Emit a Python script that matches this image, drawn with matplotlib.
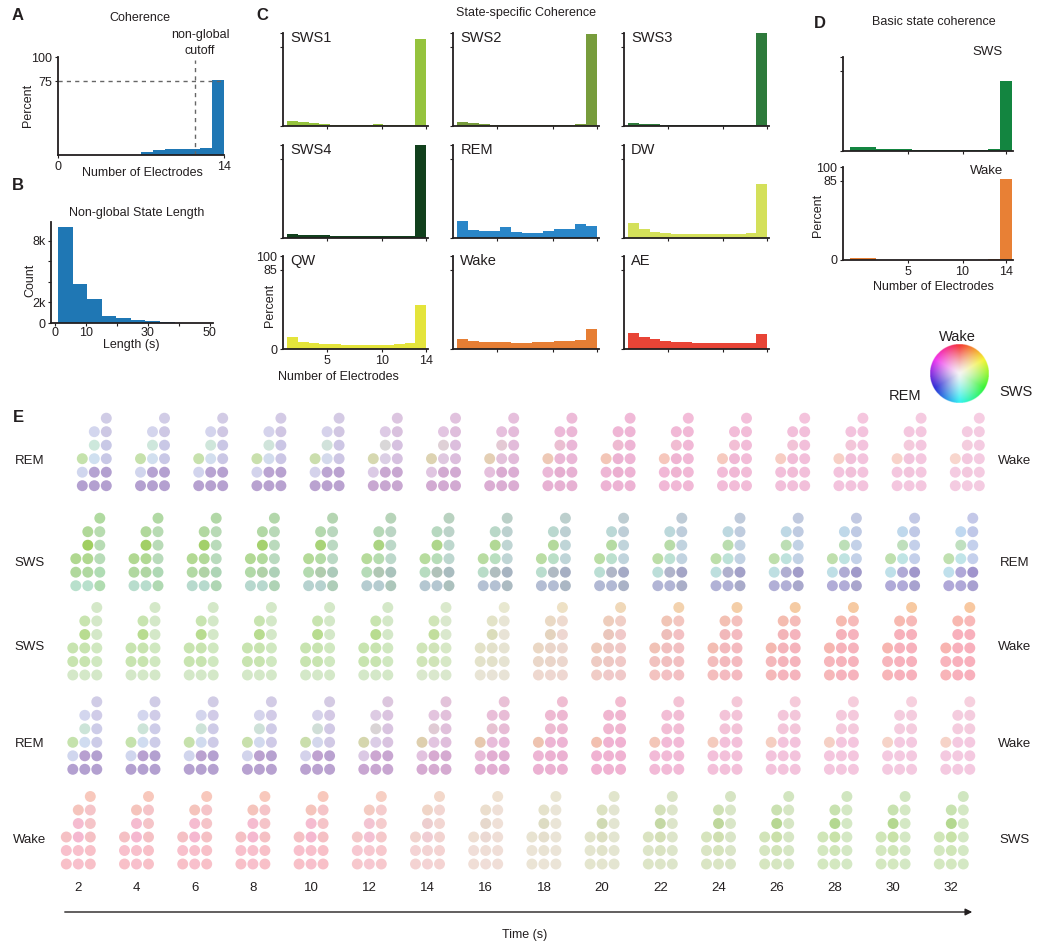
import numpy as np
import matplotlib
matplotlib.use("Agg")
import matplotlib.pyplot as plt
from matplotlib.colors import hsv_to_rgb, to_rgb

plt.rcParams['font.family'] = ['Liberation Sans', 'DejaVu Sans']
plt.rcParams['font.size'] = 9
plt.rcParams['text.color'] = '#231f20'

W, H = 1040, 946

# ---------------- data ----------------
# A: coherence histogram
coh_edges = [7, 8, 9, 10, 11, 12, 13, 14]
coh_pct = [3, 5, 6, 6, 6, 7, 77]
cutoff = 11.55

# B: non-global state length
len_edges = [1, 5.7, 10.4, 15.1, 19.8, 24.5, 29.2, 33.9, 38.6, 43.3]
len_counts = [9350, 3800, 2350, 640, 480, 250, 150, 60, 20]

# C: state-specific coherence (13 bins, 1.4 .. 14 electrodes)
c_edges = np.linspace(1.4, 14, 14)
state_names = ['SWS1', 'SWS2', 'SWS3', 'SWS4', 'REM', 'DW', 'QW', 'Wake', 'AE']
state_colors = ['#95c33d', '#779c3c', '#2e7a3b', '#11401d', '#2a86c8',
                '#d4e05a', '#e4e43b', '#e67e34', '#e84436']
sws1 = [5.4, 4.3, 3.2, 2.2, 1, 1, 1, 1, 2.2, 1, 1, 1, 93.5]
sws2 = [4.3, 3.2, 2.2, 1, 1, 1, 1, 1, 1, 1, 1, 2.2, 98.9]
sws3 = [3.2, 2.2, 2.2, 0.7, 0.7, 0.7, 0.7, 0.7, 0.7, 0.7, 0.7, 0.7, 100]
sws4 = [4, 2.9, 2.9, 2.9, 1.8, 1.8, 1.8, 1.8, 1.8, 1.8, 1.8, 1.8, 100]
rem = [18, 8.3, 7.2, 7.2, 11.5, 6.1, 5, 5, 7.2, 10, 10, 14.7, 12.6]
dw = [16, 9.4, 6.1, 5, 4, 4, 4, 4, 4, 4, 4, 5, 58]
qw = [12.9, 7.9, 6.5, 5.4, 5.4, 3.9, 3.9, 3.9, 3.9, 3.9, 5.4, 6.5, 47]
wake = [10.8, 8.6, 7.5, 7.5, 7.5, 6.5, 6.5, 7.5, 7.5, 8.6, 8.6, 9.7, 21.5]
ae = [17.6, 12.9, 10.8, 8.6, 7.5, 7.5, 6.5, 6.5, 6.5, 6.5, 6.5, 6.5, 16]
state_pct = [sws1, sws2, sws3, sws4, rem, dw, qw, wake, ae]

# D: basic state coherence
d_edges = [-0.3, 2.1, 5.4, 8.8, 12.3, 13.4, 14.5]
sws_basic = [4.6, 2.1, 1.0, 1.0, 2.1, 74]
wake_basic = [2.5, 0.4, 0.4, 0.4, 0.8, 87.5]

# E: electrode state colours over time
times = [2, 4, 6, 8, 10, 12, 14, 16, 18, 20, 22, 24, 26, 28, 30, 32]
row_start = ['REM', 'SWS', 'SWS', 'REM', 'Wake']
row_end = ['Wake', 'REM', 'Wake', 'Wake', 'SWS']
# electrode order: col0 r0-r2, col1 r0-r4, col2 r0-r5
elec_col = [0, 0, 0, 1, 1, 1, 1, 1, 2, 2, 2, 2, 2, 2]
elec_row = [0, 1, 2, 0, 1, 2, 3, 4, 0, 1, 2, 3, 4, 5]

rem_wake_start = ['#b3a0d0', '#d0d6ee', '#c5e2ac', '#b3a0d0', '#b5a3d2', '#d0e0f0', '#cde8dc',
                  '#d3d6ee', '#b3a0d0', '#b3a0d0', '#c8c8e6', '#c8c8e6', '#cdc8e4', '#d0cce6']
rem_wake_end = ['#f0b4d4', '#f0b4d4', '#f5c4b8', '#f0b4d4', '#eeb0d0', '#eeb0d0', '#f0b8d0',
                '#f0b4d4', '#f0b4d4', '#f0b4d4', '#f0b4d4', '#f0b4d4', '#f0b4d4', '#f2b8d6']
sws_rem_start = ['#b8e0cc', '#b0d89c', '#b0d890', '#b8e0cc', '#b0d8a0', '#b0d890', '#a0ce60',
                 '#b0d898', '#b0dcb0', '#b0dcb4', '#b8dcb8', '#b8dcb4', '#b8dcb0', '#b0daa0']
sws_rem_end = ['#b0a8d8', '#c0e0ec', '#c0e0b0', '#b0a8d8', '#b0a8d8', '#c0e4e8', '#c0e0c0',
               '#c0d8f0', '#a8a0d0', '#a094cc', '#c4d0ec', '#c4d0ec', '#c0c8e8', '#c4c8e8']
sws_wake_start = ['#d4e8c8', '#c8e4b0', '#c8e4b0', '#d4e8c8', '#c8e4b0', '#c8e4b0', '#b8dc90',
                  '#c8e4b0', '#d4e8c8', '#d0e8c0', '#d0e8c0', '#d4e8c8', '#d4e8c8', '#d4e8c8']
sws_wake_end = ['#f8b4b8', '#f8b4bc', '#f8b4b0', '#f8b0bc', '#f8b0bc', '#f8b0bc', '#f8b0bc',
                '#f8b8b0', '#f8b0bc', '#f8b0bc', '#f8b0bc', '#f8b0bc', '#f8b8b8', '#f8c8a0']
rem_wake2_start = ['#b3a0d0', '#d0d6ee', '#c5e2ac', '#b3a0d0', '#b8a0d0', '#d0dcf0', '#cce4d8',
                   '#d3d6ee', '#b3a0d0', '#b3a0d0', '#cdcce8', '#cdcce8', '#d0cce8', '#d0cce6']
rem_wake2_end = ['#f0b2d2', '#f0b2d2', '#f2c0b0', '#f0b2d2', '#f0b2d2', '#f0b2d2', '#f0b6d0',
                 '#f0b6d0', '#f0b2d2', '#f0b2d2', '#f0b2d2', '#f0b6d0', '#f0b6d0', '#f2bcd0']
wake_sws_start = ['#f8c0c8', '#f8c0cc', '#f5c0c4', '#f8c0cc', '#f8c0cc', '#f5b8d0', '#f5bcd0',
                  '#f5c4bc', '#f8c0c8', '#f8c0c8', '#f5c0c4', '#f5c4c8', '#f5c4c8', '#f8c8bc']
wake_sws_end = ['#d4e8c0', '#d4e8c0', '#d0e6b8', '#d4e8c0', '#d0e6b8', '#c8e2a8', '#b4d890',
                '#c8e2b0', '#d4e8c4', '#d4e8c4', '#d4e8c4', '#d4e8c4', '#d4e8c4', '#d0e6c0']
start_cols = [rem_wake_start, sws_rem_start, sws_wake_start, rem_wake2_start, wake_sws_start]
end_cols = [rem_wake_end, sws_rem_end, sws_wake_end, rem_wake2_end, wake_sws_end]

# fraction of the way from start to end state, per time point
progress = [
    [0, 0.02, 0.05, 0.08, 0.12, 0.35, 0.5, 0.65, 0.85, 0.95, 1, 1, 1, 1, 1, 1],
    [0, 0.05, 0.1, 0.15, 0.25, 0.35, 0.45, 0.55, 0.62, 0.7, 0.76, 0.82, 0.87, 0.92, 0.96, 1],
    [0, 0, 0, 0, 0, 0, 0.05, 0.3, 0.55, 0.72, 0.82, 0.88, 0.92, 0.95, 0.98, 1],
    [0, 0, 0.03, 0.06, 0.12, 0.35, 0.55, 0.75, 0.92, 1, 1, 1, 1, 1, 1, 1],
    [0, 0, 0, 0, 0, 0.05, 0.2, 0.4, 0.6, 0.75, 0.85, 0.9, 0.95, 1, 1, 1],
]
# paleness (blend towards white), per time point
paleness = [
    [0, 0, 0, 0, 0, 0, 0, 0, 0, 0, 0.05, 0.1, 0.15, 0.2, 0.25, 0.3],
    [0, 0, 0, 0, 0, 0, 0, 0, 0, 0, 0, 0, 0, 0, 0, 0],
    [0, 0, 0, 0, 0, 0, 0.1, 0.3, 0.25, 0.15, 0.08, 0.04, 0, 0, 0, 0],
    [0, 0, 0, 0, 0, 0, 0, 0, 0, 0, 0.1, 0.18, 0.22, 0.26, 0.3, 0.3],
    [0, 0, 0, 0, 0, 0.1, 0.2, 0.3, 0.3, 0.2, 0.1, 0.05, 0, 0, 0, 0],
]

# ---------------- helpers ----------------
fig = plt.figure(figsize=(W / 100, H / 100), dpi=100)


def px_axes(left, top, right, bottom):
    return fig.add_axes([left / W, 1 - bottom / H, (right - left) / W, (bottom - top) / H])


def ftext(x, y, s, **kw):
    kw.setdefault('ha', 'center')
    kw.setdefault('va', 'center')
    fig.text(x / W, 1 - y / H, s, **kw)


def style(ax):
    for s in ['top', 'right']:
        ax.spines[s].set_visible(False)
    for s in ['left', 'bottom']:
        ax.spines[s].set_linewidth(1.3)
        ax.spines[s].set_color('#231f20')
    ax.tick_params(direction='out', length=2.5, width=0.8, labelsize=9, pad=1.5, colors='#231f20')


def hist(ax, edges, vals, color):
    edges = np.asarray(edges, dtype=float)
    ax.bar(edges[:-1], vals, width=np.diff(edges), align='edge', color=color, linewidth=0)


# ---------------- A ----------------
axA = px_axes(58, 57, 224, 155)
hist(axA, coh_edges, coh_pct, '#1f77b4')
axA.set_xlim(0, 14)
axA.set_ylim(0, 100)
axA.axhline(75, color='#666666', lw=1, ls=(0, (3, 3)))
axA.axvline(cutoff, ymax=0.97, color='#666666', lw=1, ls=(0, (3, 3)))
style(axA)
axA.set_xticks([0, 14])
axA.set_yticks([75, 100])
ftext(18, 15, 'A', fontsize=12, fontweight='bold')
ftext(140, 18, 'Coherence')
ftext(200, 35, 'non-global')
ftext(200, 51, 'cutoff')
ftext(142, 173, 'Number of Electrodes')
ftext(28, 105, 'Percent', rotation=90)

# ---------------- B ----------------
axB = px_axes(51, 222, 213, 323)
hist(axB, len_edges, len_counts, '#1f77b4')
axB.set_xlim(-1.3, 51)
axB.set_ylim(0, 9800)
style(axB)
axB.tick_params(axis='x', pad=0.5)
axB.set_xticks([0, 10, 20, 30, 40, 50], ['0', '10', '', '30', '', '50'])
axB.set_yticks([0, 2000, 4000, 6000, 8000], ['0', '2k', '', '', '8k'])
ftext(18, 185, 'B', fontsize=12, fontweight='bold')
ftext(137, 213, 'Non-global State Length')
ftext(131, 345, 'Length (s)')
ftext(30, 280, 'Count', rotation=90)

# ---------------- C ----------------
c_cols = [(283, 428), (453, 599), (624, 769)]
c_rows = [(33, 126), (145, 238), (256, 349)]
for k, (name, col, vals) in enumerate(zip(state_names, state_colors, state_pct)):
    r, c = divmod(k, 3)
    ax = px_axes(c_cols[c][0], c_rows[r][0], c_cols[c][1], c_rows[r][1])
    hist(ax, c_edges, vals, col)
    ax.set_xlim(1.0, 14.2)
    ax.set_ylim(0, 100)
    style(ax)
    ax.set_xticks([5, 10, 14])
    ax.set_yticks([0, 85, 100])
    if name == 'QW':
        ax.set_xticklabels(['5', '10', '14'])
        ax.set_yticklabels(['0', '85', '100'])
    else:
        ax.set_xticklabels([])
        ax.set_yticklabels([])
    ax.text(0.05, 0.95, name, transform=ax.transAxes, ha='left', va='center', fontsize=10.5)
ftext(262, 15, 'C', fontsize=12, fontweight='bold')
ftext(526, 13, 'State-specific Coherence')
ftext(338, 377, 'Number of Electrodes')
ftext(270, 305, 'Percent', rotation=90)

# ---------------- D ----------------
for (top, bottom), vals, col, lab, ly in [((57, 151), sws_basic, '#138540', 'SWS', 52),
                                          ((167, 260), wake_basic, '#e88035', 'Wake', 171)]:
    ax = px_axes(843, top, 1013, bottom)
    hist(ax, d_edges, vals, col)
    ax.set_xlim(-0.9, 14.6)
    ax.set_ylim(0, 100)
    style(ax)
    ax.set_xticks([5, 10, 14])
    ax.set_yticks([0, 85, 100])
    if lab == 'Wake':
        ax.set_yticklabels(['0', '85', '100'])
    else:
        ax.set_xticklabels([])
        ax.set_yticklabels([])
    ftext(1003, ly, lab, ha='right', fontsize=9.5)
ftext(820, 24, 'D', fontsize=12, fontweight='bold')
ftext(934, 22, 'Basic state coherence')
ftext(933, 287, 'Number of Electrodes')
ftext(818, 215, 'Percent', rotation=90)

# ---------------- colour wheel ----------------
axw = px_axes(930, 344, 989, 403)
n = 240
yy, xx = np.mgrid[1:-1:n * 1j, -1:1:n * 1j]
rr = np.hypot(xx, yy)
hue = (np.arctan2(xx, yy) / (2 * np.pi)) % 1
sat = np.clip(rr, 0, 1) ** 1.2 * 0.82
val = 0.96 - 0.12 * np.clip(rr, 0, 1) * np.exp(-((hue - 0.68) / 0.12) ** 2)
rgb = hsv_to_rgb(np.dstack([hue, sat, val]))
rgba = np.dstack([rgb, (rr <= 1).astype(float)])
axw.imshow(rgba, extent=[-1, 1, -1, 1], interpolation='bilinear')
axw.set_axis_off()
ftext(957, 337, 'Wake', fontsize=10.5)
ftext(905, 396, 'REM', fontsize=10.5)
ftext(1016, 392, 'SWS', fontsize=10.5)

# ---------------- E ----------------
px_per_s = 29.1
axE = fig.add_axes([0, 0, 1, (H - 400) / H])
axE.set_xlim(2 - 78.3 / px_per_s, 2 + (W - 78.3) / px_per_s)
axE.set_ylim(H, 400)
axE.set_axis_off()

row_base = [485.7, 585.7, 675, 769.3, 864]     # y of bottom electrode row (px)
row_shift = [16, 9.5, 6.5, 6.5, 0]              # x shift of each row (px)
dx_col = 12 / px_per_s
dy_row = 13.5
white = np.ones(3)
for r in range(5):
    c0 = np.array([to_rgb(c) for c in start_cols[r]])
    c1 = np.array([to_rgb(c) for c in end_cols[r]])
    for i, t in enumerate(times):
        p = progress[r][i]
        w = paleness[r][i]
        cols = (1 - p) * c0 + p * c1
        cols = (1 - w) * cols + w * white
        xs = [t + row_shift[r] / px_per_s + (ec - 1) * dx_col for ec in elec_col]
        ys = [row_base[r] - er * dy_row for er in elec_row]
        axE.scatter(xs, ys, s=62, c=cols, linewidths=0)

left_labels = ['REM', 'SWS', 'SWS', 'REM', 'Wake']
right_labels = ['Wake', 'REM', 'Wake', 'Wake', 'SWS']
left_y = [461, 563, 647, 744, 840]
for lab_l, lab_r, y in zip(left_labels, right_labels, left_y):
    ftext(30, y, lab_l, fontsize=9.5)
    ftext(1015, y, lab_r, fontsize=9.5)

for t in times:
    axE.text(t, 888, str(t), ha='center', va='center', fontsize=9.5)
axE.annotate('', xy=(2 + (975 - 78.3) / px_per_s, 912), xytext=(2 + (62 - 78.3) / px_per_s, 912),
             arrowprops=dict(arrowstyle='-|>', color='#231f20', lw=1, mutation_scale=10))
ftext(525, 935, 'Time (s)')
ftext(18, 417, 'E', fontsize=12, fontweight='bold')

fig.savefig('out.png', dpi=100)
